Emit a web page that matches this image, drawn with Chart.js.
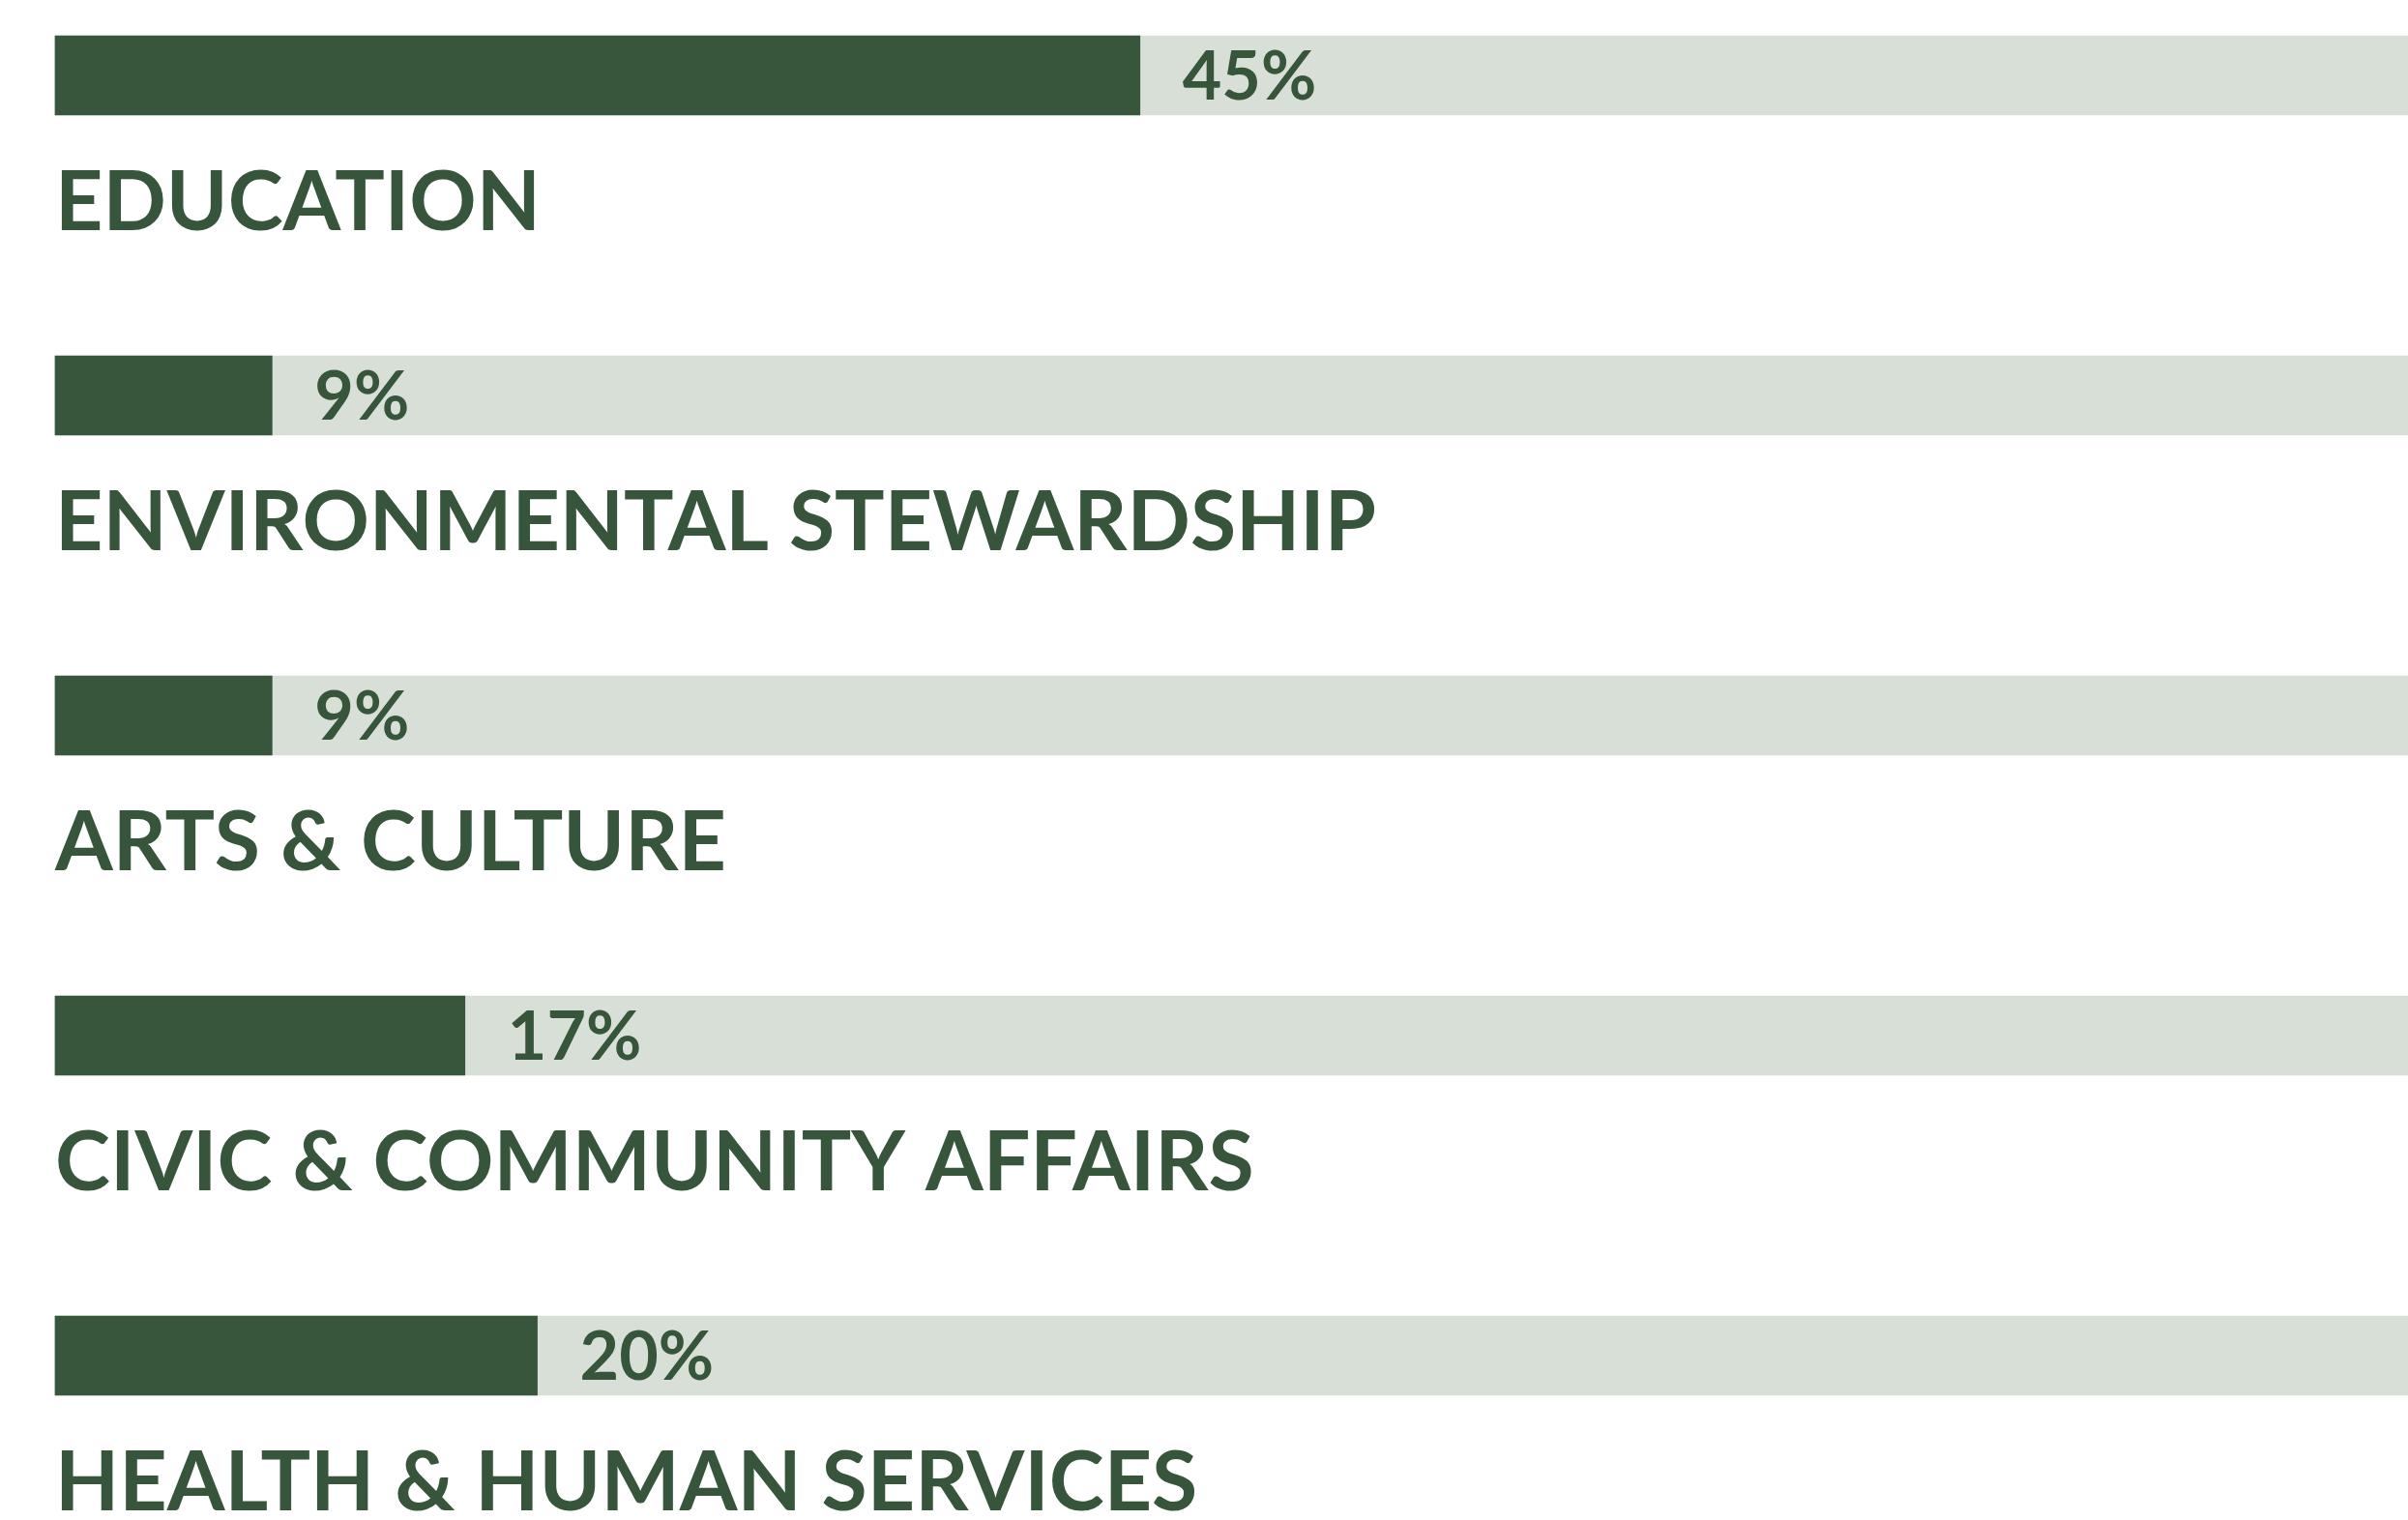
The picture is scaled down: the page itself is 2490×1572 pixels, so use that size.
<!DOCTYPE html>
<html>
<head>
<meta charset="utf-8">
<script src="https://cdn.jsdelivr.net/npm/chart.js@4/dist/chart.umd.min.js"></script>
<style>
  html, body { margin: 0; padding: 0; background: #ffffff; }
  #wrap { width: 2490px; height: 1572px; position: relative; }
</style>
</head>
<body>
<div id="wrap"><canvas id="c" width="2490" height="1572"></canvas></div>
<script>
const categories = ['EDUCATION', 'ENVIRONMENTAL STEWARDSHIP', 'ARTS & CULTURE', 'CIVIC & COMMUNITY AFFAIRS', 'HEALTH & HUMAN SERVICES'];
const shares = [45, 9, 9, 17, 20];
const track = [100, 100, 100, 100, 100];
const valueLabels = ['45%', '9%', '9%', '17%', '20%'];

const DARK = '#37563c';
const LIGHT = '#d8dfd7';
const TEXT = '#36553b';

const labelPlugin = {
  id: 'rowLabels',
  afterDatasetsDraw(chart) {
    const ctx = chart.ctx;
    const xs = chart.scales.x, ys = chart.scales.y;
    ctx.save();
    ctx.fillStyle = TEXT;
    ctx.textAlign = 'left';
    ctx.textBaseline = 'alphabetic';
    categories.forEach((cat, i) => {
      const yc = ys.getPixelForValue(i);
      ctx.font = '700 70px Lato';
      ctx.fillText(valueLabels[i], xs.getPixelForValue(shares[i]) + 44, yc + 25);
      ctx.font = '700 86px Lato';
      ctx.fillText(cat, xs.getPixelForValue(0), yc + 160);
    });
    ctx.restore();
  }
};

new Chart(document.getElementById('c'), {
  type: 'bar',
  data: {
    labels: categories,
    datasets: [
      { data: shares, backgroundColor: DARK, barThickness: 82, grouped: false, order: 0, clip: false },
      { data: track, backgroundColor: LIGHT, barThickness: 82, grouped: false, order: 1, clip: false }
    ]
  },
  options: {
    indexAxis: 'y',
    responsive: false,
    animation: false,
    events: [],
    layout: { padding: { left: 57, right: 0, top: 78, bottom: 170 } },
    scales: {
      x: { display: false, min: 0, max: 97.6 },
      y: { display: false, offset: false }
    },
    plugins: { legend: { display: false }, tooltip: { enabled: false } }
  },
  plugins: [labelPlugin]
});
</script>
</body>
</html>
